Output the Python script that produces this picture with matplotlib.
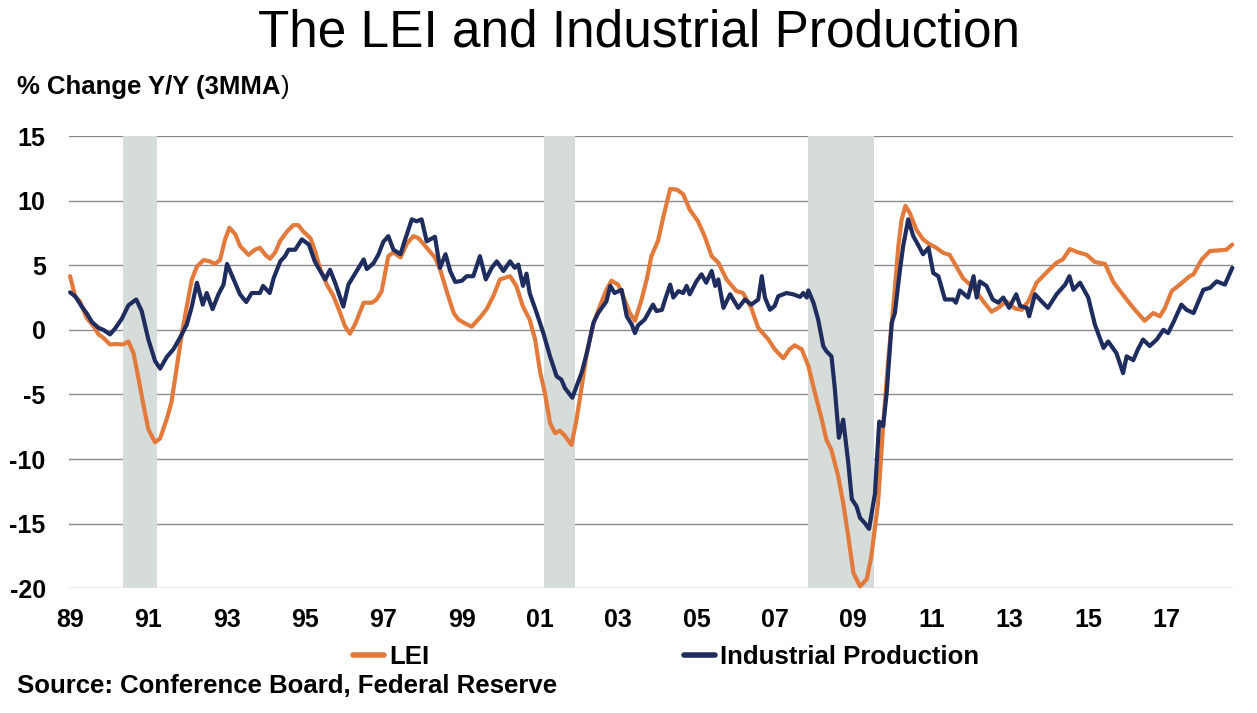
import matplotlib.pyplot as plt
from matplotlib.lines import Line2D

# LEI, % change y/y (3MMA)
lei_years = [1989.00, 1989.13, 1989.25, 1989.42, 1989.60, 1989.73, 1989.85, 1990.02, 1990.19, 1990.36,
             1990.49, 1990.62, 1990.75, 1990.88, 1991.00, 1991.17, 1991.30, 1991.47, 1991.59, 1991.73,
             1991.86, 1991.98, 1992.11, 1992.24, 1992.41, 1992.57, 1992.70, 1992.83, 1992.96, 1993.07,
             1993.22, 1993.34, 1993.56, 1993.72, 1993.85, 1993.99, 1994.11, 1994.24, 1994.37, 1994.54,
             1994.70, 1994.83, 1994.96, 1995.14, 1995.26, 1995.39, 1995.56, 1995.73, 1995.90, 1996.02,
             1996.15, 1996.29, 1996.50, 1996.71, 1996.83, 1996.96, 1997.13, 1997.26, 1997.44, 1997.61,
             1997.77, 1997.90, 1998.11, 1998.32, 1998.45, 1998.63, 1998.80, 1998.92, 1999.09, 1999.26,
             1999.47, 1999.64, 1999.81, 1999.98, 2000.24, 2000.40, 2000.57, 2000.74, 2000.88, 2001.01,
             2001.13, 2001.26, 2001.39, 2001.51, 2001.64, 2001.81, 2001.94, 2002.07, 2002.20, 2002.37,
             2002.53, 2002.70, 2002.83, 2003.00, 2003.13, 2003.30, 2003.43, 2003.60, 2003.73, 2003.85,
             2004.02, 2004.16, 2004.33, 2004.50, 2004.66, 2004.83, 2005.04, 2005.21, 2005.39, 2005.56,
             2005.77, 2006.02, 2006.19, 2006.40, 2006.58, 2006.84, 2007.00, 2007.22, 2007.38, 2007.51,
             2007.69, 2007.86, 2008.03, 2008.20, 2008.32, 2008.45, 2008.62, 2008.75, 2008.88, 2009.01,
             2009.18, 2009.35, 2009.47, 2009.64, 2009.77, 2009.90, 2010.03, 2010.16, 2010.24, 2010.34,
             2010.45, 2010.62, 2010.79, 2010.97, 2011.10, 2011.31, 2011.47, 2011.64, 2011.81, 2012.08,
             2012.33, 2012.54, 2012.71, 2012.92, 2013.14, 2013.31, 2013.48, 2013.69, 2013.98, 2014.20,
             2014.36, 2014.54, 2014.75, 2014.97, 2015.18, 2015.44, 2015.65, 2015.90, 2016.16, 2016.45,
             2016.67, 2016.84, 2016.97, 2017.14, 2017.35, 2017.60, 2017.70, 2017.91, 2018.12, 2018.33,
             2018.54, 2018.69]
lei_values = [4.15, 2.6, 2.2, 0.93, 0.28, -0.36, -0.62, -1.13, -1.1, -1.13,
              -0.9, -1.8, -3.8, -5.9, -7.7, -8.7, -8.4, -6.9, -5.6, -2.8,
              -0.2, 1.8, 3.9, 4.9, 5.4, 5.3, 5.1, 5.4, 7.0, 7.9,
              7.4, 6.5, 5.8, 6.2, 6.35, 5.8, 5.5, 6.0, 6.9, 7.6,
              8.1, 8.1, 7.6, 7.1, 6.1, 4.7, 3.5, 2.6, 1.3, 0.3,
              -0.3, 0.5, 2.1, 2.1, 2.35, 3.0, 5.7, 6.0, 5.6, 6.7,
              7.25, 7.1, 6.35, 5.6, 4.7, 2.9, 1.3, 0.8, 0.5, 0.25,
              0.95, 1.6, 2.6, 3.9, 4.15, 3.4, 1.8, 0.8, -0.75, -3.3,
              -4.9, -7.2, -8.0, -7.8, -8.2, -8.9, -6.9, -4.4, -1.8, 0.5,
              1.8, 3.1, 3.8, 3.5, 2.6, 1.3, 0.7, 2.35, 3.9, 5.7,
              6.9, 8.8, 10.9, 10.85, 10.5, 9.3, 8.4, 7.25, 5.7, 5.2,
              3.9, 3.0, 2.85, 1.7, 0.15, -0.75, -1.5, -2.2, -1.5, -1.2,
              -1.5, -2.8, -4.9, -6.9, -8.5, -9.3, -11.3, -13.4, -16.0, -18.8,
              -19.85, -19.3, -17.5, -13.4, -7.45, -2.3, 1.8, 6.5, 8.5, 9.6,
              9.05, 7.75, 7.0, 6.6, 6.4, 5.95, 5.8, 4.9, 4.0, 3.25,
              2.2, 1.4, 1.7, 2.2, 1.65, 1.55, 2.2, 3.65, 4.55, 5.2,
              5.45, 6.25, 6.0, 5.8, 5.25, 5.1, 3.7, 2.7, 1.7, 0.7,
              1.3, 1.05, 1.7, 3.0, 3.5, 4.15, 4.3, 5.45, 6.1, 6.15,
              6.2, 6.6]

# Industrial production, % change y/y (3MMA)
ip_years = [1989.00, 1989.13, 1989.30, 1989.42, 1989.56, 1989.73, 1989.85, 1990.02, 1990.15, 1990.32,
            1990.49, 1990.69, 1990.83, 1991.00, 1991.17, 1991.30, 1991.47, 1991.64, 1991.81, 1991.98,
            1992.11, 1992.24, 1992.39, 1992.49, 1992.64, 1992.79, 1992.92, 1993.01, 1993.18, 1993.34,
            1993.50, 1993.64, 1993.85, 1993.93, 1994.10, 1994.20, 1994.37, 1994.49, 1994.58, 1994.75,
            1994.92, 1995.10, 1995.25, 1995.39, 1995.52, 1995.64, 1995.77, 1995.98, 1996.11, 1996.24,
            1996.37, 1996.50, 1996.58, 1996.75, 1996.88, 1997.00, 1997.13, 1997.26, 1997.44, 1997.56,
            1997.73, 1997.85, 1997.98, 1998.11, 1998.32, 1998.45, 1998.59, 1998.71, 1998.84, 1999.01,
            1999.13, 1999.30, 1999.47, 1999.62, 1999.77, 1999.90, 2000.07, 2000.24, 2000.36, 2000.45,
            2000.57, 2000.66, 2000.74, 2000.92, 2001.09, 2001.26, 2001.43, 2001.55, 2001.64, 2001.83,
            2001.94, 2002.07, 2002.20, 2002.37, 2002.49, 2002.70, 2002.80, 2002.91, 2003.09, 2003.22,
            2003.35, 2003.43, 2003.51, 2003.68, 2003.89, 2003.98, 2004.12, 2004.20, 2004.33, 2004.41,
            2004.54, 2004.66, 2004.75, 2004.83, 2005.00, 2005.13, 2005.25, 2005.39, 2005.48, 2005.56,
            2005.69, 2005.86, 2006.07, 2006.24, 2006.40, 2006.58, 2006.67, 2006.75, 2006.88, 2007.00,
            2007.09, 2007.30, 2007.47, 2007.65, 2007.73, 2007.82, 2007.86, 2007.99, 2008.11, 2008.24,
            2008.32, 2008.45, 2008.53, 2008.64, 2008.75, 2008.88, 2008.97, 2009.09, 2009.18, 2009.30,
            2009.41, 2009.56, 2009.67, 2009.77, 2009.86, 2009.99, 2010.07, 2010.20, 2010.28, 2010.41,
            2010.54, 2010.66, 2010.79, 2010.93, 2011.05, 2011.18, 2011.35, 2011.56, 2011.63, 2011.73,
            2011.94, 2012.08, 2012.16, 2012.24, 2012.41, 2012.57, 2012.71, 2012.84, 2012.99, 2013.17,
            2013.27, 2013.44, 2013.50, 2013.65, 2013.82, 2013.98, 2014.20, 2014.42, 2014.53, 2014.63,
            2014.80, 2015.01, 2015.18, 2015.40, 2015.52, 2015.73, 2015.90, 2015.99, 2016.16, 2016.28,
            2016.41, 2016.58, 2016.76, 2016.93, 2017.05, 2017.18, 2017.39, 2017.52, 2017.70, 2017.95,
            2018.12, 2018.29, 2018.50, 2018.69]
ip_values = [2.9, 2.6, 1.8, 1.3, 0.6, 0.15, 0.0, -0.35, 0.1, 0.85,
             1.9, 2.35, 1.45, -0.75, -2.4, -3.0, -2.1, -1.5, -0.6, 0.4,
             1.8, 3.65, 1.95, 2.85, 1.6, 2.75, 3.5, 5.1, 3.9, 2.75,
             2.15, 2.85, 2.85, 3.4, 2.85, 4.0, 5.3, 5.7, 6.2, 6.2,
             7.0, 6.6, 5.3, 4.55, 3.9, 4.65, 3.65, 1.8, 3.5, 4.15,
             4.8, 5.45, 4.7, 5.15, 5.85, 6.8, 7.25, 6.2, 5.85, 7.0,
             8.55, 8.4, 8.55, 6.85, 7.2, 4.8, 5.85, 4.55, 3.7, 3.8,
             4.15, 4.15, 5.7, 3.9, 4.8, 5.3, 4.55, 5.3, 4.8, 5.05,
             3.4, 4.35, 2.85, 1.3, -0.25, -2.05, -3.6, -3.85, -4.5, -5.25,
             -4.35, -3.3, -1.8, 0.55, 1.3, 2.2, 3.4, 2.85, 3.1, 1.05,
             0.4, -0.25, 0.35, 0.8, 1.95, 1.45, 1.55, 2.35, 3.5, 2.5,
             3.0, 2.85, 3.4, 2.75, 3.75, 4.3, 3.65, 4.55, 3.4, 3.9,
             1.7, 2.75, 1.7, 2.35, 1.95, 2.35, 4.15, 2.5, 1.55, 1.85,
             2.6, 2.85, 2.75, 2.55, 2.85, 2.5, 3.05, 2.1, 0.8, -1.25,
             -1.65, -2.05, -4.35, -8.35, -6.95, -10.3, -13.1, -13.65, -14.55, -14.95,
             -15.4, -12.7, -7.1, -7.45, -4.9, 0.55, 1.3, 4.65, 6.45, 8.55,
             7.25, 6.6, 5.85, 6.35, 4.4, 4.15, 2.35, 2.35, 2.1, 3.05,
             2.5, 4.15, 2.5, 3.75, 3.4, 2.35, 2.1, 2.5, 1.7, 2.75,
             1.85, 1.7, 1.05, 2.75, 2.2, 1.7, 2.75, 3.5, 4.15, 3.1,
             3.65, 2.5, 0.4, -1.4, -0.9, -1.8, -3.35, -2.05, -2.35, -1.5,
             -0.75, -1.25, -0.75, 0.0, -0.25, 0.55, 1.95, 1.55, 1.3, 3.1,
             3.25, 3.75, 3.5, 4.8]

# recessions (shaded)
recession_start = [1990.35, 2001.11, 2007.86]
recession_end = [1991.21, 2001.90, 2009.54]

x_ticks = list(range(1989, 2018, 2))
x_labels = ['89', '91', '93', '95', '97', '99', '01', '03', '05', '07',
            '09', '11', '13', '15', '17']
y_ticks = [-20, -15, -10, -5, 0, 5, 10, 15]

LEI_COLOR = '#E27A3B'
IP_COLOR = '#1F2C5E'
SHADE = '#D6DCDA'
GRID = '#8C8C8C'

plt.rcParams['font.family'] = ['Liberation Sans', 'DejaVu Sans']
plt.rcParams['axes.unicode_minus'] = False

W, H = 1257, 713
fig = plt.figure(figsize=(W / 100, H / 100), dpi=100)
ax = fig.add_axes([69.3 / W, 1 - 588.3 / H, (1232.7 - 69.3) / W, (588.3 - 136) / H])

for y in y_ticks:
    ax.axhline(y, color=GRID, lw=1.0, zorder=1)
for s, e in zip(recession_start, recession_end):
    ax.axvspan(s, e, color=SHADE, lw=0, zorder=2)

ax.plot(lei_years, lei_values, color=LEI_COLOR, lw=3.0, solid_joinstyle='round',
        solid_capstyle='round', zorder=3, clip_on=False)
ax.plot(ip_years, ip_values, color=IP_COLOR, lw=3.0, solid_joinstyle='round',
        solid_capstyle='round', zorder=4, clip_on=False)

ax.set_xlim(1988.98, 2018.70)
ax.set_ylim(-20, 15)
ax.set_xticks(x_ticks)
ax.set_xticklabels(x_labels)
ax.set_yticks(y_ticks)
for s in ax.spines.values():
    s.set_visible(False)
ax.tick_params(axis='x', length=0, pad=14, labelsize=18)
ax.tick_params(axis='y', length=0, pad=17, labelsize=18)
for lab in ax.get_xticklabels() + ax.get_yticklabels():
    lab.set_fontweight('bold')

fig.text(0.508, 1 - 46.7 / H, 'The LEI and Industrial Production', ha='center',
         va='baseline', fontsize=37)
unit = fig.text(17 / W, 1 - 94 / H, '% Change Y/Y (3MMA', ha='left', va='baseline',
                fontsize=18.5, fontweight='bold')
# closing bracket is in regular weight in the original
r = fig.canvas.get_renderer()
bb = unit.get_window_extent(renderer=r)
fig.text(bb.x1 / W, 1 - 94 / H, ')', ha='left', va='baseline', fontsize=18.5)
fig.text(17 / W, 1 - 693 / H, 'Source: Conference Board, Federal Reserve', ha='left',
         va='baseline', fontsize=18.5, fontweight='bold')

leg_y = 1 - 657 / H
for label, color, left in [('LEI', LEI_COLOR, 353), ('Industrial Production', IP_COLOR, 684)]:
    h = Line2D([], [], color=color, lw=4, solid_capstyle='round')
    fig.legend([h], [label], loc='center left', bbox_to_anchor=(left / W, leg_y),
               frameon=False, borderpad=0, borderaxespad=0, handlelength=1.2,
               handletextpad=0.2, prop={'weight': 'bold', 'size': 18.5})

fig.savefig('out.png', dpi=100)
